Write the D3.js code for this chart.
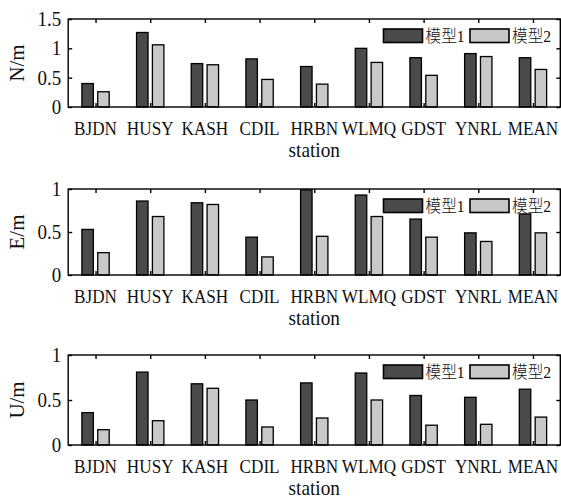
<!DOCTYPE html>
<html>
<head>
<meta charset="utf-8">
<script src="https://cdn.jsdelivr.net/npm/d3@7"></script>
<style>
  html, body { margin: 0; padding: 0; background: #fff; }
  svg text { font-family: "Liberation Serif", "Noto Sans CJK SC", serif; fill: #111; }
</style>
</head>
<body>
<svg id="chart" width="561" height="499"></svg>
<script>
// Station names along the x axis
const stations = ["BJDN", "HUSY", "KASH", "CDIL", "HRBN", "WLMQ", "GDST", "YNRL", "MEAN"];
const seriesNames = ["模型1", "模型2"];

// North component (m)
const nModel1 = [0.40, 1.27, 0.74, 0.82, 0.69, 1.00, 0.84, 0.91, 0.84];
const nModel2 = [0.26, 1.06, 0.72, 0.47, 0.39, 0.76, 0.54, 0.86, 0.64];
// East component (m)
const eModel1 = [0.53, 0.86, 0.84, 0.44, 0.99, 0.93, 0.65, 0.49, 0.71];
const eModel2 = [0.26, 0.68, 0.82, 0.21, 0.45, 0.68, 0.44, 0.39, 0.49];
// Up component (m)
const uModel1 = [0.36, 0.81, 0.68, 0.50, 0.69, 0.80, 0.55, 0.53, 0.62];
const uModel2 = [0.17, 0.27, 0.63, 0.20, 0.30, 0.50, 0.22, 0.23, 0.31];

// Y tick labels per panel
const nTicks = [0, 0.5, 1, 1.5];
const eTicks = [0, 0.5, 1];
const uTicks = [0, 0.5, 1];

const panels = [
  { label: "N/m", a: nModel1, b: nModel2, ticks: nTicks, ymax: 1.5, top: 19, bottom: 107 },
  { label: "E/m", a: eModel1, b: eModel2, ticks: eTicks, ymax: 1, top: 189, bottom: 275 },
  { label: "U/m", a: uModel1, b: uModel2, ticks: uTicks, ymax: 1, top: 355, bottom: 445 }
];

const colors = ["#4a4a4a", "#c8c8c8"];
const left = 68.2, right = 560.3;
const tickLen = 4;
const barW = 0.21, barOff = 0.145;

const svg = d3.select("#chart");
const x = d3.scaleLinear().domain([0.5, stations.length + 0.5]).range([left, right]);

// Text placed at (tx, ty), horizontally condensed around its anchor
function label(sel, tx, ty, sx, extra = "") {
  return sel.append("text")
    .attr("transform", `translate(${tx},${ty}) ${extra} scale(${sx},1)`);
}

panels.forEach(p => {
  const y = d3.scaleLinear().domain([0, p.ymax]).range([p.bottom, p.top]);
  const g = svg.append("g");

  // Bars: two series per station
  [p.a, p.b].forEach((vals, s) => {
    g.selectAll(null)
      .data(vals)
      .enter().append("rect")
      .attr("x", (d, i) => x(i + 1 + (s === 0 ? -barOff : barOff) - barW / 2))
      .attr("width", x(barW) - x(0))
      .attr("y", d => y(d))
      .attr("height", d => y(0) - y(d))
      .attr("fill", colors[s])
      .attr("stroke", "#000")
      .attr("stroke-width", 1.3);
  });

  // Axes box with inward ticks
  const xBottom = d3.axisBottom(x).tickValues(d3.range(1, stations.length + 1))
    .tickSizeInner(-tickLen).tickSizeOuter(0).tickFormat("");
  const xTop = d3.axisTop(x).tickValues(d3.range(1, stations.length + 1))
    .tickSizeInner(-tickLen).tickSizeOuter(0).tickFormat("");
  const yLeft = d3.axisLeft(y).tickValues(p.ticks)
    .tickSizeInner(-tickLen).tickSizeOuter(0).tickFormat("");
  const yRight = d3.axisRight(y).tickValues(p.ticks)
    .tickSizeInner(-tickLen).tickSizeOuter(0).tickFormat("");

  [[xBottom, `translate(0,${p.bottom})`], [xTop, `translate(0,${p.top})`],
   [yLeft, `translate(${left},0)`], [yRight, `translate(${right},0)`]].forEach(([ax, tr]) => {
    const a = g.append("g").attr("transform", tr).call(ax);
    a.select(".domain").remove();
    a.selectAll("line").attr("stroke", "#000").attr("stroke-width", 1.4);
  });

  g.append("rect")
    .attr("x", left).attr("y", p.top)
    .attr("width", right - left).attr("height", p.bottom - p.top)
    .attr("fill", "none").attr("stroke", "#000").attr("stroke-width", 1.4);

  // Y tick labels
  p.ticks.forEach(t => {
    label(g, left - 7, y(t), 0.95)
      .attr("dy", "0.35em")
      .attr("text-anchor", "end")
      .attr("font-size", 20)
      .text(d3.format("~g")(t));
  });

  // X tick labels
  stations.forEach((st, i) => {
    label(g, x(i + 1), p.bottom + 27.5, 0.88)
      .attr("text-anchor", "middle")
      .attr("font-size", 19.5)
      .text(st);
  });

  // Axis titles
  label(g, x((stations.length + 1) / 2), p.bottom + 49.5, 0.92)
    .attr("text-anchor", "middle")
    .attr("font-size", 21)
    .text("station");

  label(g, 24, (p.top + p.bottom) / 2, 0.95, "rotate(-90)")
    .attr("text-anchor", "middle")
    .attr("font-size", 22)
    .text(p.label);

  // Legend
  const lg = g.append("g").attr("transform", `translate(383.5,${p.top + 10})`);
  const sw = 39, sh = 13.5, step = 86.5;
  seriesNames.forEach((name, s) => {
    lg.append("rect")
      .attr("x", s * step).attr("y", 0)
      .attr("width", sw).attr("height", sh)
      .attr("fill", colors[s]).attr("stroke", "#000").attr("stroke-width", 1.6);
    lg.append("text")
      .attr("transform", `translate(${s * step + sw + 3},${sh / 2}) scale(0.92,1)`)
      .attr("dy", "0.36em")
      .attr("font-size", 17)
      .attr("font-weight", 300)
      .text(name);
  });
});
</script>
</body>
</html>
